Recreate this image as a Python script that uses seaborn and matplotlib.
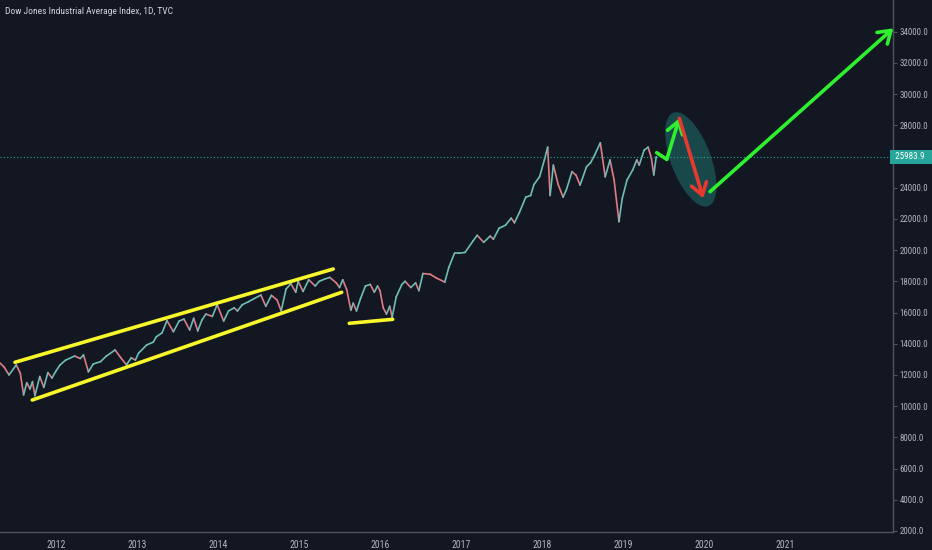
import numpy as np
import pandas as pd
import matplotlib
matplotlib.use("Agg")
import matplotlib.pyplot as plt
import matplotlib.transforms as mtransforms
from matplotlib.patches import Ellipse
from matplotlib import font_manager
import seaborn as sns

# Daily closes (approximate turning points)
years = [
    2011.31, 2011.36, 2011.42, 2011.51, 2011.56, 2011.60, 2011.64, 2011.68, 2011.71, 2011.74,
    2011.80, 2011.85, 2011.90, 2011.95, 2012.00, 2012.05, 2012.12, 2012.23, 2012.30, 2012.34,
    2012.40, 2012.46, 2012.55, 2012.62, 2012.73, 2012.80, 2012.87, 2012.93, 2012.98, 2013.02,
    2013.12, 2013.20, 2013.24, 2013.31, 2013.37, 2013.45, 2013.52, 2013.58, 2013.65, 2013.70,
    2013.75, 2013.80, 2013.85, 2013.93, 2013.99, 2014.07, 2014.13, 2014.20, 2014.24, 2014.30,
    2014.38, 2014.45, 2014.53, 2014.59, 2014.66, 2014.73, 2014.78, 2014.84, 2014.90, 2014.96,
    2014.99, 2015.05, 2015.12, 2015.20, 2015.25, 2015.32, 2015.38, 2015.46, 2015.50, 2015.54,
    2015.59, 2015.64, 2015.67, 2015.71, 2015.76, 2015.82, 2015.88, 2015.93, 2015.97, 2016.00,
    2016.04, 2016.08, 2016.12, 2016.15, 2016.20, 2016.27, 2016.31, 2016.38, 2016.44, 2016.48,
    2016.53, 2016.62, 2016.70, 2016.80, 2016.85, 2016.92, 2016.97, 2017.05, 2017.15, 2017.20,
    2017.28, 2017.36, 2017.40, 2017.47, 2017.55, 2017.62, 2017.66, 2017.72, 2017.80, 2017.86,
    2017.90, 2017.97, 2018.03, 2018.07, 2018.10, 2018.14, 2018.20, 2018.26, 2018.30, 2018.37,
    2018.42, 2018.47, 2018.55, 2018.60, 2018.65, 2018.72, 2018.78, 2018.84, 2018.89, 2018.95,
    2018.99, 2019.05, 2019.12, 2019.17, 2019.20, 2019.26, 2019.31, 2019.35, 2019.38, 2019.41,
]
closes = [
    12760, 12500, 12000, 12640, 12100, 10720, 11500, 11100, 11570, 10670,
    11900, 11200, 12150, 11800, 12250, 12640, 12950, 13210, 13050, 13280,
    12200, 12700, 12850, 13200, 13600, 13100, 12650, 13100, 12950, 13400,
    13920, 14100, 14450, 14700, 15480, 14770, 15450, 15580, 14880, 15630,
    14820, 15500, 15900, 15750, 16500, 15450, 16100, 16300, 16100, 16500,
    16700, 16900, 17120, 16400, 17100, 16800, 16100, 17500, 17850, 17300,
    18000, 17350, 18100, 17700, 18000, 18150, 18250, 17900, 17600, 18100,
    17450, 16150, 16600, 16100, 16900, 17700, 17800, 17300, 17700, 17400,
    16300, 15900, 16400, 15700, 17000, 17800, 18000, 17600, 17900, 17400,
    18500, 18450, 18200, 17950, 18900, 19800, 19800, 19850, 20600, 20950,
    20500, 20900, 20700, 21400, 21600, 22050, 21750, 22400, 23400, 23500,
    24200, 24700, 25800, 26600, 23500, 25450, 24200, 23400, 23850, 25030,
    24800, 24170, 25350, 25600, 26100, 26880, 24700, 25780, 24490, 21820,
    23300, 24500, 25140, 25780, 25450, 26400, 26600, 25900, 24820, 25984,
]
last_price = 25983.9
y_ticks = [2000, 4000, 6000, 8000, 10000, 12000, 14000, 16000, 18000,
           20000, 22000, 24000, 28000, 30000, 32000, 34000]
x_ticks = list(range(2012, 2022))

# Drawings on the chart: (year, price)
channel_upper = [(2011.494, 12809), (2015.423, 18789)]
channel_lower = [(2011.707, 10392), (2015.527, 17296)]
bottom_line = [(2015.621, 15308), (2016.157, 15565)]
small_up = [(2019.416, 26244), (2019.540, 25821), (2019.695, 28449)]
red_down = [(2019.695, 28449), (2019.991, 23321)]
big_up = [(2020.074, 23744), (2022.337, 34218)]
zone_center = (2019.837, 25818)

bg = "#131722"
txt = "#b2b5be"
axis_col = "#50535e"
up_col = "#6cbfb5"
down_col = "#e07c86"
yellow = "#f7f72a"
green = "#2ef02e"
red = "#e8392f"

sns.set_theme(style="dark", rc={"axes.facecolor": bg, "figure.facecolor": bg})
installed = {f.name for f in font_manager.fontManager.ttflist}
families = [f for f in ["Roboto Condensed", "Liberation Sans Narrow", "Roboto"] if f in installed]
plt.rcParams["font.family"] = families + ["DejaVu Sans"]

fig = plt.figure(figsize=(9.32, 5.5), dpi=100)
ax = fig.add_axes([0, 18 / 550, 893 / 932, 532 / 550])
ax.set_facecolor(bg)

# price path, each step coloured by direction like candles
rows = []
for i in range(1, len(closes)):
    d = "up" if closes[i] >= closes[i - 1] else "down"
    rows.append({"seg": i, "year": years[i - 1], "price": closes[i - 1], "dir": d})
    rows.append({"seg": i, "year": years[i], "price": closes[i], "dir": d})
df = pd.DataFrame(rows)
sns.lineplot(data=df, x="year", y="price", hue="dir", units="seg", estimator=None,
             palette={"up": up_col, "down": down_col}, lw=1.2, legend=False, ax=ax)

# last price line
ax.axhline(last_price, color="#26a69a", lw=0.8, ls=(0, (1, 2)))

# yellow channel and support
for seg in (channel_upper, channel_lower, bottom_line):
    xs, ys = zip(*seg)
    ax.plot(xs, ys, color=yellow, lw=2.6, solid_capstyle="round")

# projection zone
off = mtransforms.ScaledTranslation(zone_center[0], zone_center[1], ax.transData)
ax.add_patch(Ellipse((0, 0), 0.996, 0.40, angle=-69.4, transform=fig.dpi_scale_trans + off,
                     facecolor="#26a69a", alpha=0.35, edgecolor="none", zorder=1))

arrow_kw = dict(arrowstyle="->,head_length=0.42,head_width=0.28", lw=2.6,
                shrinkA=0, shrinkB=0, mutation_scale=20, capstyle="round")

ax.plot([small_up[0][0], small_up[1][0]], [small_up[0][1], small_up[1][1]],
        color=green, lw=2.6, solid_capstyle="round")
ax.annotate("", xy=small_up[2], xytext=small_up[1], arrowprops=dict(color=green, **arrow_kw))
ax.annotate("", xy=red_down[1], xytext=red_down[0], arrowprops=dict(color=red, **arrow_kw))
ax.annotate("", xy=big_up[1], xytext=big_up[0], arrowprops=dict(color=green, **arrow_kw),
            annotation_clip=False)

ax.set_xlim(2011.309, 2022.333)
ax.set_ylim(1931, 36032)
ax.set_xticks(x_ticks)
ax.set_xticklabels([str(y) for y in x_ticks])
ax.set_yticks(y_ticks)
ax.set_yticklabels([f"{v:.1f}" for v in y_ticks])
ax.yaxis.tick_right()
ax.set_xlabel("")
ax.set_ylabel("")
ax.grid(False)
ax.tick_params(axis="both", colors=axis_col, labelcolor=txt, labelsize=6.4,
               length=3, width=0.8, direction="out", pad=1.5)
ax.tick_params(axis="x", pad=3, labelsize=7)
for side in ("top", "left"):
    ax.spines[side].set_visible(False)
for side in ("bottom", "right"):
    ax.spines[side].set_color(axis_col)
    ax.spines[side].set_linewidth(1.0)

# price label on the axis
ax.text(1.0, last_price, f" {last_price:.1f}  ", transform=ax.get_yaxis_transform(),
        ha="left", va="center", color="white", fontsize=6.6, clip_on=False,
        bbox=dict(boxstyle="square,pad=0.3", facecolor="#26a69a", edgecolor="none"))

ax.text(0.006, 0.979, "Dow Jones Industrial Average Index, 1D, TVC", transform=ax.transAxes,
        ha="left", va="center", color="#d1d4dc", fontsize=6.8)

fig.savefig("out.png", dpi=100, facecolor=bg)
